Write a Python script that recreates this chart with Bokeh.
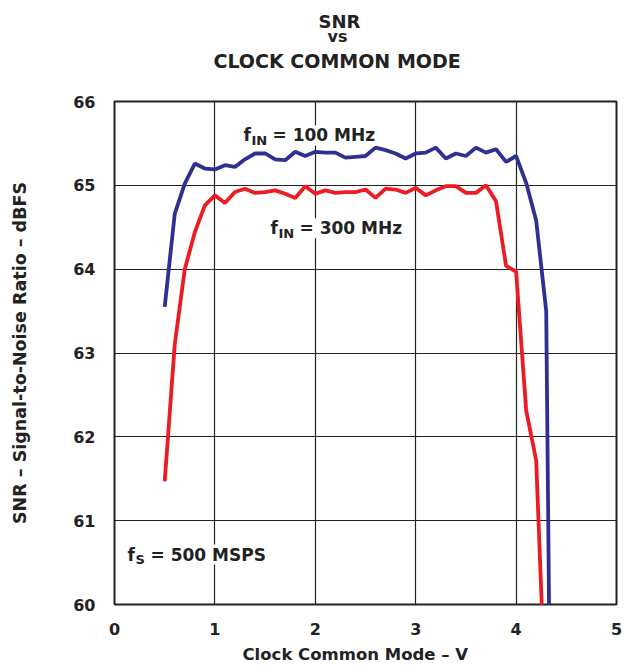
from bokeh.plotting import figure
from bokeh.models import Range1d, Label, FixedTicker, Title
from bokeh.embed import file_html
from bokeh.resources import INLINE

# Clock common mode voltage (V)
voltage = [0.5, 0.6, 0.7, 0.8, 0.9, 1.0, 1.1, 1.2, 1.3, 1.4, 1.5, 1.6, 1.7, 1.8, 1.9,
           2.0, 2.1, 2.2, 2.3, 2.4, 2.5, 2.6, 2.7, 2.8, 2.9, 3.0, 3.1, 3.2, 3.3, 3.4,
           3.5, 3.6, 3.7, 3.8, 3.9, 4.0, 4.1, 4.2, 4.3]
voltage_100 = voltage + [4.4]

# SNR (dBFS), fIN = 100 MHz
snr_100 = [63.55, 64.66, 65.02, 65.26, 65.20, 65.19, 65.24, 65.22, 65.31, 65.38,
           65.38, 65.31, 65.30, 65.40, 65.35, 65.40, 65.39, 65.39, 65.33, 65.34,
           65.35, 65.45, 65.42, 65.38, 65.32, 65.38, 65.39, 65.45, 65.32, 65.38,
           65.35, 65.45, 65.39, 65.43, 65.28, 65.35, 65.03, 64.58, 63.50, 51.0]

# SNR (dBFS), fIN = 300 MHz
snr_300 = [61.47, 63.10, 64.00, 64.44, 64.76, 64.88, 64.79, 64.92, 64.96, 64.91,
           64.92, 64.94, 64.90, 64.85, 64.99, 64.90, 64.94, 64.91, 64.92, 64.92,
           64.95, 64.85, 64.96, 64.95, 64.91, 64.97, 64.88, 64.94, 64.99, 64.99,
           64.91, 64.91, 65.00, 64.81, 64.04, 63.97, 62.32, 61.72, 58.6]

x_ticks = [0, 1, 2, 3, 4, 5]
y_ticks = [60, 61, 62, 63, 64, 65, 66]

title_lines = ["SNR", "vs", "CLOCK COMMON MODE"]
x_label = "Clock Common Mode \u2013 V"
y_label = "SNR \u2013 Signal-to-Noise Ratio \u2013 dBFS"

FONT = "DejaVu Sans"
BLUE = "#2E3192"
RED = "#ED1C24"
INK = "#222222"

p = figure(width=632, height=672, output_backend="svg", toolbar_location=None,
           title=None,
           x_range=Range1d(0, 5), y_range=Range1d(60, 66),
           min_border_left=114, min_border_right=16,
           min_border_top=101, min_border_bottom=67)

p.background_fill_color = "white"
p.border_fill_color = "white"
p.outline_line_color = INK
p.outline_line_width = 2

for ax in (p.xaxis[0], p.yaxis[0]):
    ax.axis_line_color = None
    ax.major_tick_line_color = None
    ax.minor_tick_line_color = None
    ax.major_label_text_font = FONT
    ax.major_label_text_font_style = "bold"
    ax.major_label_text_font_size = "16px"
    ax.major_label_text_color = INK
    ax.axis_label_text_font = FONT
    ax.axis_label_text_font_style = "bold"
    ax.axis_label_text_color = INK

p.xaxis.ticker = FixedTicker(ticks=x_ticks)
p.yaxis.ticker = FixedTicker(ticks=y_ticks)
p.xaxis.major_label_standoff = 12
p.yaxis.major_label_standoff = 13
p.yaxis.axis_label = y_label
p.yaxis.axis_label_text_font_size = "17.5px"
p.yaxis.axis_label_standoff = 40

p.xgrid.ticker = FixedTicker(ticks=x_ticks)
p.ygrid.ticker = FixedTicker(ticks=y_ticks)
for g in (p.xgrid[0], p.ygrid[0]):
    g.grid_line_color = INK
    g.grid_line_width = 1.2
    g.grid_line_alpha = 1.0

p.line(voltage_100, snr_100, line_color=BLUE, line_width=3.8)
p.line(voltage, snr_300, line_color=RED, line_width=3.8)

# spacer between plot frame and title block
spacer = Title(text=" ", text_font_size="1px", standoff=27)
p.add_layout(spacer, "above")

# Title lines (closest to the plot first)
for text, size, standoff, off in [(title_lines[2], "19px", 0, 99),
                                  (title_lines[1], "16px", 4, 213),
                                  (title_lines[0], "18px", -19, 204)]:
    t = Title(text=text, align="left", offset=off, text_font=FONT,
              text_font_style="bold", text_font_size=size, text_color=INK,
              standoff=standoff)
    p.add_layout(t, "above")

# x-axis label as a below title so it can be placed like the reference
xt = Title(text=x_label, align="left", offset=128, text_font=FONT,
           text_font_style="bold", text_font_size="16.5px", text_color=INK,
           standoff=14, vertical_align="top")
p.add_layout(xt, "below")


def px_to_x(px):
    return (px - 114) / 100.4


def py_to_y(py):
    return 66 - (py - 101) / 84.0


def add_text(text, px, py, size):
    lab = Label(x=px_to_x(px), y=py_to_y(py), text=text,
                text_font=FONT, text_font_style="bold", text_font_size=size,
                text_color=INK, text_align="left", text_baseline="alphabetic",
                background_fill_color="white")
    p.add_layout(lab)


# Series annotations (with subscripts)
add_text("f", 243, 135, "17px")
add_text("IN", 251, 140, "13px")
add_text("= 100 MHz", 272, 135, "17px")

add_text("f", 270, 228, "17px")
add_text("IN", 278, 233, "13px")
add_text("= 300 MHz", 299, 228, "17px")

add_text("f", 127, 555, "17px")
add_text("S", 135, 560, "13px")
add_text("= 500 MSPS", 150, 555, "17px")

open("out.html", "w").write(file_html(p, INLINE))
